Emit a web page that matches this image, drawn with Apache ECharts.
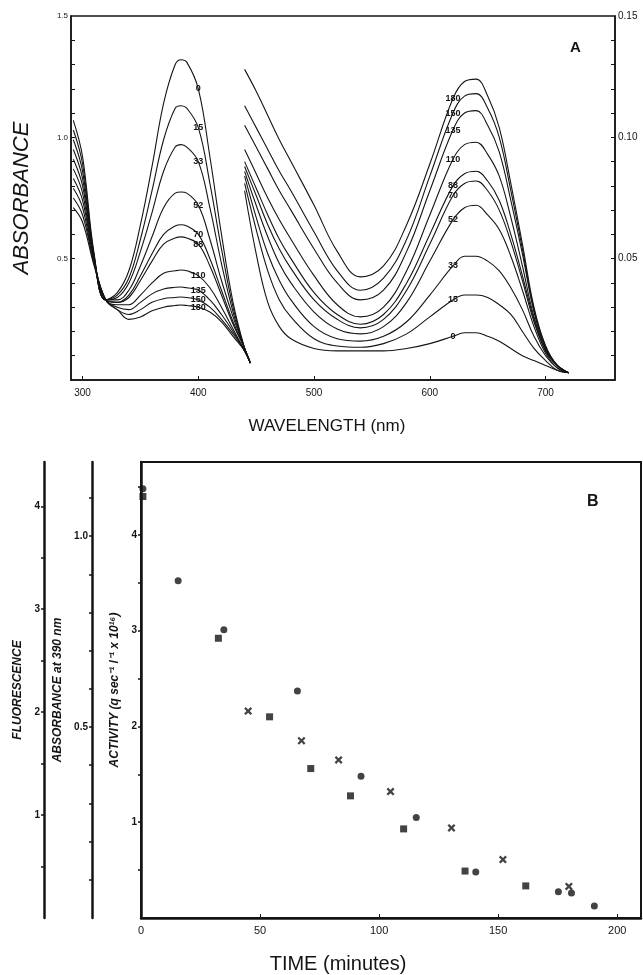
<!DOCTYPE html>
<html>
<head>
<meta charset="utf-8">
<script src="https://cdn.jsdelivr.net/npm/echarts@6/dist/echarts.min.js"></script>
<style>
  html, body { margin: 0; padding: 0; background: #fff; }
  #chart { width: 643px; height: 975px; }
</style>
</head>
<body>
<div id="chart"></div>
<script>
// ---- panel A : spectra, labelled by minutes after mixing ----
const minutes = ['0', '15', '33', '52', '70', '88', '110', '135', '150', '180'];

// near-UV part, read on the left axis (0 - 1.5)
const wlUv = [292, 300, 310, 320, 330, 340, 350, 360, 370, 380, 385, 390, 400, 410, 420, 430, 440, 445];
const uv0   = [1.07, 0.92, 0.52, 0.33, 0.36, 0.45, 0.64, 0.88, 1.14, 1.30, 1.32, 1.31, 1.20, 0.92, 0.60, 0.32, 0.13, 0.07];
const uv15  = [1.03, 0.89, 0.51, 0.33, 0.35, 0.42, 0.58, 0.78, 0.99, 1.12, 1.13, 1.12, 1.04, 0.81, 0.54, 0.30, 0.13, 0.07];
const uv33  = [0.99, 0.86, 0.51, 0.33, 0.34, 0.40, 0.53, 0.69, 0.86, 0.96, 0.97, 0.96, 0.90, 0.71, 0.48, 0.28, 0.13, 0.07];
const uv52  = [0.95, 0.83, 0.50, 0.33, 0.33, 0.37, 0.47, 0.59, 0.71, 0.77, 0.775, 0.77, 0.72, 0.58, 0.41, 0.26, 0.13, 0.07];
const uv70  = [0.91, 0.80, 0.50, 0.33, 0.32, 0.35, 0.43, 0.52, 0.60, 0.635, 0.64, 0.635, 0.60, 0.50, 0.37, 0.24, 0.13, 0.07];
const uv88  = [0.87, 0.77, 0.49, 0.33, 0.32, 0.34, 0.41, 0.49, 0.56, 0.585, 0.59, 0.585, 0.56, 0.47, 0.35, 0.23, 0.13, 0.07];
const uv110 = [0.83, 0.74, 0.49, 0.33, 0.31, 0.31, 0.35, 0.40, 0.44, 0.45, 0.453, 0.45, 0.43, 0.38, 0.30, 0.21, 0.12, 0.07];
const uv135 = [0.79, 0.71, 0.48, 0.33, 0.30, 0.29, 0.32, 0.355, 0.375, 0.382, 0.383, 0.38, 0.37, 0.33, 0.27, 0.20, 0.12, 0.07];
const uv150 = [0.75, 0.68, 0.48, 0.33, 0.29, 0.27, 0.29, 0.32, 0.335, 0.34, 0.342, 0.34, 0.33, 0.30, 0.25, 0.19, 0.12, 0.07];
const uv180 = [0.71, 0.65, 0.47, 0.33, 0.29, 0.25, 0.26, 0.285, 0.30, 0.307, 0.309, 0.307, 0.30, 0.28, 0.24, 0.18, 0.12, 0.07];

// visible part, read on the right axis (0 - 0.15)
const wlVis = [440, 450, 460, 470, 480, 500, 520, 540, 560, 580, 600, 620, 630, 640, 650, 660, 670, 680, 690, 700, 710, 720];
const vis0   = [0.078, 0.052, 0.032, 0.022, 0.017, 0.013, 0.012, 0.012, 0.012, 0.013, 0.015, 0.018, 0.0195, 0.0195, 0.018, 0.016, 0.013, 0.010, 0.008, 0.006, 0.004, 0.003];
const vis15  = [0.081, 0.062, 0.045, 0.033, 0.026, 0.017, 0.014, 0.0135, 0.015, 0.019, 0.026, 0.033, 0.035, 0.035, 0.034, 0.031, 0.027, 0.020, 0.013, 0.008, 0.004, 0.003];
const vis33  = [0.084, 0.067, 0.052, 0.041, 0.033, 0.022, 0.017, 0.016, 0.018, 0.024, 0.035, 0.047, 0.051, 0.051, 0.049, 0.045, 0.038, 0.029, 0.018, 0.010, 0.005, 0.003];
const vis52  = [0.086, 0.072, 0.059, 0.048, 0.040, 0.028, 0.021, 0.019, 0.022, 0.032, 0.049, 0.066, 0.071, 0.072, 0.068, 0.062, 0.051, 0.037, 0.022, 0.011, 0.005, 0.003];
const vis70  = [0.088, 0.076, 0.064, 0.054, 0.046, 0.033, 0.025, 0.0215, 0.025, 0.037, 0.056, 0.076, 0.081, 0.082, 0.078, 0.070, 0.057, 0.041, 0.024, 0.012, 0.006, 0.003];
const vis88  = [0.090, 0.079, 0.068, 0.058, 0.050, 0.036, 0.027, 0.023, 0.027, 0.040, 0.060, 0.080, 0.085, 0.086, 0.082, 0.074, 0.060, 0.043, 0.025, 0.012, 0.006, 0.003];
const vis110 = [0.095, 0.085, 0.075, 0.066, 0.058, 0.043, 0.031, 0.026, 0.030, 0.045, 0.068, 0.091, 0.097, 0.098, 0.093, 0.084, 0.067, 0.047, 0.026, 0.013, 0.006, 0.003];
const vis135 = [0.105, 0.096, 0.087, 0.078, 0.070, 0.054, 0.040, 0.033, 0.037, 0.053, 0.078, 0.103, 0.110, 0.111, 0.105, 0.094, 0.074, 0.052, 0.028, 0.013, 0.006, 0.003];
const vis150 = [0.113, 0.104, 0.095, 0.086, 0.078, 0.061, 0.045, 0.037, 0.042, 0.058, 0.084, 0.110, 0.117, 0.118, 0.112, 0.100, 0.078, 0.054, 0.029, 0.014, 0.006, 0.003];
const vis180 = [0.128, 0.119, 0.109, 0.099, 0.090, 0.072, 0.053, 0.0425, 0.047, 0.064, 0.089, 0.116, 0.123, 0.124, 0.117, 0.104, 0.081, 0.056, 0.030, 0.014, 0.006, 0.003];

const wlLabels = [300, 400, 500, 600, 700];
const absLeftLabels = [0.5, 1.0, 1.5];
const absRightLabels = [0.05, 0.10, 0.15];

// ---- panel B : decay with time ----
const circleTime = [0.8, 15.6, 34.8, 65.7, 92.4, 115.6, 140.6, 175.3, 180.8, 190.4];
const circleAct  = [4.48, 3.52, 3.01, 2.37, 1.48, 1.05, 0.48, 0.275, 0.26, 0.125];
const squareTime = [0.8, 32.5, 54, 71.3, 88, 110.3, 136.1, 161.6];
const squareAct  = [4.40, 2.92, 2.10, 1.56, 1.275, 0.93, 0.49, 0.335];
const crossTime  = [45, 67.4, 83, 104.8, 130.4, 152, 179.7];
const crossAct   = [2.16, 1.85, 1.65, 1.32, 0.94, 0.61, 0.33];

const timeLabels = [0, 50, 100, 150, 200];
const activityLabels = [1, 2, 3, 4];
const abs390Labels = [0.5, 1.0];
const fluorLabels = [1, 2, 3, 4];

const INK = '#141414';
const FONT = 'Liberation Sans';

const chart = echarts.init(document.getElementById('chart'));

function steps(from, to, step) {
  const out = [];
  for (let v = from; v <= to + 1e-9; v += step) out.push(Math.round(v * 1000) / 1000);
  return out;
}

function spectrum(name, wl, vals, xi, yi, labelAt) {
  const k = wl.indexOf(labelAt);
  return {
    name: name,
    type: 'line',
    xAxisIndex: xi,
    yAxisIndex: yi,
    smooth: 0.4,
    showSymbol: false,
    silent: true,
    lineStyle: { color: INK, width: 1.1 },
    data: wl.map((w, i) => [w, vals[i]]),
    markPoint: {
      symbol: 'circle',
      symbolSize: 1,
      itemStyle: { color: 'rgba(0,0,0,0)' },
      label: {
        show: true, position: 'inside', formatter: name,
        color: INK, fontSize: 9, fontWeight: 'bold', fontFamily: FONT
      },
      data: [{ coord: [wl[k], vals[k]] }]
    }
  };
}

const uvSet = [uv0, uv15, uv33, uv52, uv70, uv88, uv110, uv135, uv150, uv180];
const visSet = [vis0, vis15, vis33, vis52, vis70, vis88, vis110, vis135, vis150, vis180];

const series = [];
minutes.forEach((m, i) => series.push(spectrum(m, wlUv, uvSet[i], 0, 0, 400)));
minutes.forEach((m, i) => series.push(spectrum(m, wlVis, visSet[i], 0, 1, 620)));

// bold "x" marker, as in the print
const crossPath = 'path://M0,2 L2,0 L5,3 L8,0 L10,2 L7,5 L10,8 L8,10 L5,7 L2,10 L0,8 L3,5 Z';
series.push(
  { type: 'scatter', xAxisIndex: 1, yAxisIndex: 2, symbol: 'circle', symbolSize: 7,
    itemStyle: { color: INK }, data: circleTime.map((t, i) => [t, circleAct[i]]) },
  { type: 'scatter', xAxisIndex: 1, yAxisIndex: 2, symbol: 'rect', symbolSize: 7,
    itemStyle: { color: INK }, data: squareTime.map((t, i) => [t, squareAct[i]]) },
  { type: 'scatter', xAxisIndex: 1, yAxisIndex: 2, symbol: crossPath, symbolSize: 8,
    itemStyle: { color: INK }, data: crossTime.map((t, i) => [t, crossAct[i]]) }
);

const tickText = { color: INK, fontFamily: FONT };

const option = {
  animation: false,
  backgroundColor: '#fff',
  grid: [
    { left: 71, right: 28, top: 16, bottom: 595, show: true, borderColor: INK, borderWidth: 1.5 },
    { left: 141, right: 2, top: 462, bottom: 57, show: true, borderColor: INK, borderWidth: 2 }
  ],
  xAxis: [
    {
      gridIndex: 0, type: 'value', min: 290, max: 760,
      axisLine: { lineStyle: { color: INK, width: 1.5 } },
      axisTick: { inside: true, length: 4, customValues: wlLabels, lineStyle: { color: INK } },
      axisLabel: Object.assign({ customValues: wlLabels, fontSize: 10, margin: 8 }, tickText),
      splitLine: { show: false },
      name: 'WAVELENGTH (nm)', nameLocation: 'middle', nameGap: 38,
      nameTextStyle: { color: INK, fontFamily: FONT, fontSize: 17, padding: [0, 32, 0, 0] }
    },
    {
      gridIndex: 1, type: 'value', min: 0, max: 210,
      axisLine: { lineStyle: { color: INK, width: 2.5 } },
      axisTick: { inside: true, length: 4, customValues: timeLabels, lineStyle: { color: INK } },
      axisLabel: Object.assign({ customValues: timeLabels, fontSize: 11, margin: 7 }, tickText),
      splitLine: { show: false },
      name: 'TIME (minutes)', nameLocation: 'middle', nameGap: 36,
      nameTextStyle: { color: INK, fontFamily: FONT, fontSize: 20, padding: [0, 106, 0, 0] }
    }
  ],
  yAxis: [
    {
      gridIndex: 0, type: 'value', min: 0, max: 1.5, position: 'left',
      axisLine: { lineStyle: { color: INK, width: 1.5 } },
      axisTick: { inside: true, length: 4, customValues: steps(0.1, 1.4, 0.1), lineStyle: { color: INK } },
      axisLabel: Object.assign({ customValues: absLeftLabels, fontSize: 8, margin: 3,
        formatter: v => v.toFixed(1) }, tickText),
      splitLine: { show: false },
      name: 'ABSORBANCE', nameLocation: 'middle', nameGap: 38,
      nameTextStyle: { color: INK, fontFamily: FONT, fontSize: 22, fontStyle: 'italic' }
    },
    {
      gridIndex: 0, type: 'value', min: 0, max: 0.15, position: 'right',
      axisLine: { lineStyle: { color: INK, width: 1.5 } },
      axisTick: { inside: true, length: 4, customValues: steps(0.01, 0.14, 0.01), lineStyle: { color: INK } },
      axisLabel: Object.assign({ customValues: absRightLabels, fontSize: 10, margin: 3,
        formatter: v => v.toFixed(2) }, tickText),
      splitLine: { show: false }
    },
    {
      gridIndex: 1, type: 'value', min: 0, max: 4.76, position: 'left', offset: 0,
      axisLine: { lineStyle: { color: INK, width: 2.5 } },
      axisTick: { length: 3, customValues: steps(0.5, 4.5, 0.5), lineStyle: { color: INK, width: 1.5 } },
      axisLabel: Object.assign({ customValues: activityLabels, fontSize: 10, fontWeight: 'bold', margin: 4 }, tickText),
      splitLine: { show: false },
      name: 'ACTIVITY (q sec⁻¹ l⁻¹ x 10¹⁶)', nameLocation: 'middle', nameGap: 13,
      nameTextStyle: { color: INK, fontFamily: FONT, fontSize: 12, fontStyle: 'italic', fontWeight: 'bold' }
    },
    {
      gridIndex: 1, type: 'value', min: 0, max: 1.194, position: 'left', offset: 49,
      axisLine: { lineStyle: { color: INK, width: 2.5 } },
      axisTick: { length: 3, customValues: steps(0.1, 1.1, 0.1), lineStyle: { color: INK, width: 1.5 } },
      axisLabel: Object.assign({ customValues: abs390Labels, fontSize: 10, fontWeight: 'bold', margin: 4,
        formatter: v => v.toFixed(1) }, tickText),
      splitLine: { show: false },
      name: 'ABSORBANCE at 390 nm', nameLocation: 'middle', nameGap: 18,
      nameTextStyle: { color: INK, fontFamily: FONT, fontSize: 12, fontStyle: 'italic', fontWeight: 'bold' }
    },
    {
      gridIndex: 1, type: 'value', min: 0, max: 4.43, position: 'left', offset: 97,
      axisLine: { lineStyle: { color: INK, width: 2.5 } },
      axisTick: { length: 3, customValues: steps(0.5, 4, 0.5), lineStyle: { color: INK, width: 1.5 } },
      axisLabel: Object.assign({ customValues: fluorLabels, fontSize: 10, fontWeight: 'bold', margin: 4 }, tickText),
      splitLine: { show: false },
      name: 'FLUORESCENCE', nameLocation: 'middle', nameGap: 14,
      nameTextStyle: { color: INK, fontFamily: FONT, fontSize: 12, fontStyle: 'italic', fontWeight: 'bold' }
    }
  ],
  graphic: [
    { type: 'text', left: 570, top: 40, style: { text: 'A', fill: INK, font: 'bold 15px "Liberation Sans"' } },
    { type: 'text', left: 587, top: 494, style: { text: 'B', fill: INK, font: 'bold 16px "Liberation Sans"' } }
  ],
  series: series
};

chart.setOption(option);
</script>
</body>
</html>
